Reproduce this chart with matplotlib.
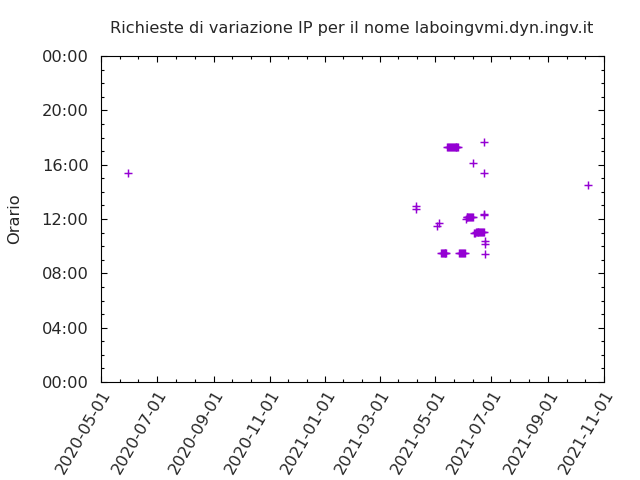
import numpy as np
import pandas as pd
import matplotlib
matplotlib.use("Agg")
import matplotlib.pyplot as plt
import matplotlib.dates as mdates
from matplotlib.ticker import MultipleLocator, FixedLocator, FuncFormatter

# Richieste di cambio IP: giorno e ora
dates = [
    "2020-05-31",
    "2021-04-10", "2021-04-10",
    "2021-05-03", "2021-05-05",
    # serie 09:32
    "2021-05-07", "2021-05-08", "2021-05-09", "2021-05-10", "2021-05-11", "2021-05-12", "2021-05-13",
    # serie 17:20
    "2021-05-14", "2021-05-15", "2021-05-16", "2021-05-17", "2021-05-18", "2021-05-19", "2021-05-20",
    "2021-05-21", "2021-05-22", "2021-05-23", "2021-05-24", "2021-05-25", "2021-05-26",
    # serie 09:29
    "2021-05-27", "2021-05-28", "2021-05-29", "2021-05-30", "2021-05-31", "2021-06-01", "2021-06-02",
    # serie 12:07
    "2021-06-03", "2021-06-04", "2021-06-05", "2021-06-06", "2021-06-07", "2021-06-08", "2021-06-09",
    "2021-06-10", "2021-06-11",
    "2021-06-11",
    # serie 11:03
    "2021-06-12", "2021-06-13", "2021-06-14", "2021-06-15", "2021-06-16", "2021-06-17", "2021-06-18",
    "2021-06-19", "2021-06-20", "2021-06-21", "2021-06-22", "2021-06-23",
    "2021-06-23", "2021-06-23", "2021-06-23", "2021-06-23",
    "2021-06-24", "2021-06-24", "2021-06-24",
    "2021-10-14",
]
times = [
    "15:22",
    "12:58", "12:46",
    "11:31", "11:43",
    "09:32", "09:32", "09:32", "09:32", "09:32", "09:32", "09:32",
    "17:20", "17:20", "17:20", "17:20", "17:20", "17:20", "17:20",
    "17:20", "17:20", "17:20", "17:20", "17:20", "17:20",
    "09:29", "09:29", "09:29", "09:29", "09:29", "09:29", "09:29",
    "11:59", "12:07", "12:07", "12:07", "12:07", "12:07", "12:07",
    "12:07", "12:07",
    "16:06",
    "10:58", "11:00", "11:04", "11:04", "11:04", "11:04", "11:04",
    "11:04", "11:04", "11:04", "11:04", "11:04",
    "17:39", "15:25", "12:21", "12:19",
    "10:23", "10:10", "09:24",
    "14:29",
]

x = pd.to_datetime(dates)
tt = pd.to_datetime(times, format="%H:%M")
y = tt.hour + tt.minute / 60.0

text_col = "#262626"
fig = plt.figure(figsize=(6.4, 4.8), dpi=100)
ax = fig.add_axes([101 / 640, 98 / 480, 503 / 640, 326 / 480])

ax.plot(x, y, linestyle="none", marker="+", color="#9400d3",
        markersize=5.4, markeredgewidth=1.05)

start = pd.Timestamp("2020-05-01")
end = pd.Timestamp("2021-11-01")
ax.set_xlim(start, end)
ax.set_ylim(0, 24)

# asse x: ogni due mesi, tacche minori a un terzo
major = pd.date_range(start, end, freq="2MS")
major_num = mdates.date2num(major)
ax.xaxis.set_major_locator(FixedLocator(major_num))
ax.xaxis.set_major_formatter(mdates.DateFormatter("%Y-%m-%d"))
minor_num = []
for a, b in zip(major_num[:-1], major_num[1:]):
    minor_num += [a + (b - a) / 3, a + 2 * (b - a) / 3]
ax.xaxis.set_minor_locator(FixedLocator(minor_num))

ax.yaxis.set_major_locator(MultipleLocator(4))
ax.yaxis.set_minor_locator(MultipleLocator(1))
ax.yaxis.set_major_formatter(FuncFormatter(lambda v, p: f"{int(round(v)) % 24:02d}:00"))

ax.tick_params(which="both", direction="in", top=True, right=True, width=0.8,
               labelsize=11.7, labelcolor=text_col)
ax.tick_params(which="major", length=4.5)
ax.tick_params(which="minor", length=2.2)
ax.tick_params(axis="y", pad=9)
ax.tick_params(axis="x", pad=4)
for lab in ax.get_xticklabels():
    lab.set_rotation(60)
    lab.set_ha("right")
    lab.set_va("top")
    lab.set_rotation_mode("anchor")
for sp in ax.spines.values():
    sp.set_linewidth(0.8)

ax.set_ylabel("Orario", fontsize=11.7, color=text_col)
ax.yaxis.set_label_coords(-0.157, 0.5)

fig.text(352 / 640, 1 - 28.5 / 480,
         "Richieste di variazione IP per il nome laboingvmi.dyn.ingv.it",
         ha="center", va="center", fontsize=11.6, color=text_col)

fig.savefig("out.png", dpi=100)
